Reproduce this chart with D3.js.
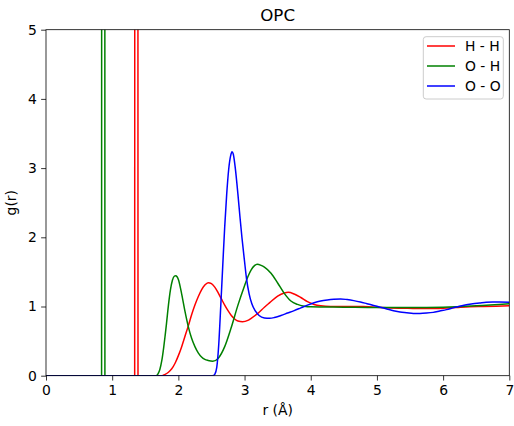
<!DOCTYPE html>
<html>
<head>
<meta charset="utf-8">
<script src="https://cdn.jsdelivr.net/npm/d3@7"></script>
<style>
  html, body { margin: 0; padding: 0; background: #fff; }
  svg { display: block; font-family: "DejaVu Sans", sans-serif; }
</style>
</head>
<body>
<svg id="chart" width="514" height="426"></svg>
<script>
// ---------------- data ----------------
const title = "OPC";
const xLabel = "r (Å)";
const yLabel = "g(r)";
const seriesNames = ["H - H", "O - H", "O - O"];
const xTicks = [0, 1, 2, 3, 4, 5, 6, 7];
const yTicks = [0, 1, 2, 3, 4, 5];

const rHH = [0, 1.340, 1.345, 1.385, 1.390, 1.75, 1.80, 1.85, 1.90, 1.95, 2.00, 2.05, 2.10, 2.15, 2.20, 2.25, 2.30, 2.35, 2.40, 2.45, 2.50, 2.55, 2.60, 2.65, 2.70, 2.75, 2.80, 2.85, 2.90, 2.97, 3.05, 3.10, 3.20, 3.30, 3.38, 3.50, 3.60, 3.66, 3.75, 3.85, 3.95, 4.05, 4.15, 4.30, 4.50, 4.80, 5.00, 5.20, 5.40, 5.60, 5.80, 6.00, 6.20, 6.40, 6.60, 6.80, 7.00];
const gHH = [0, 0, 30, 30, 0, 0, 0.02, 0.05, 0.10, 0.18, 0.29, 0.42, 0.57, 0.72, 0.88, 1.02, 1.14, 1.24, 1.31, 1.345, 1.33, 1.28, 1.20, 1.11, 1.02, 0.94, 0.87, 0.82, 0.79, 0.78, 0.80, 0.83, 0.90, 0.99, 1.055, 1.15, 1.195, 1.205, 1.18, 1.13, 1.07, 1.03, 1.01, 1.00, 1.00, 1.00, 0.99, 0.98, 0.975, 0.97, 0.97, 0.975, 0.985, 0.995, 1.00, 1.005, 1.01];

const rOH = [0, 0.840, 0.845, 0.885, 0.890, 1.65, 1.68, 1.70, 1.72, 1.75, 1.78, 1.80, 1.82, 1.85, 1.88, 1.91, 1.94, 1.96, 1.98, 2.00, 2.05, 2.10, 2.15, 2.20, 2.25, 2.30, 2.35, 2.40, 2.45, 2.52, 2.60, 2.70, 2.80, 2.90, 3.00, 3.05, 3.10, 3.15, 3.19, 3.25, 3.30, 3.40, 3.50, 3.60, 3.70, 3.80, 3.90, 4.00, 4.50, 5.00, 5.50, 6.00, 6.50, 7.00];
const gOH = [0, 0, 30, 30, 0, 0, 0.01, 0.04, 0.09, 0.22, 0.42, 0.58, 0.75, 1.02, 1.24, 1.38, 1.44, 1.445, 1.43, 1.39, 1.18, 0.93, 0.71, 0.54, 0.42, 0.33, 0.27, 0.235, 0.22, 0.21, 0.25, 0.42, 0.70, 1.02, 1.30, 1.43, 1.53, 1.59, 1.61, 1.595, 1.57, 1.48, 1.34, 1.19, 1.08, 1.03, 1.005, 0.995, 0.99, 0.985, 0.985, 0.99, 1.01, 1.04];

const rOO = [0, 2.50, 2.53, 2.55, 2.58, 2.61, 2.64, 2.67, 2.70, 2.73, 2.76, 2.79, 2.81, 2.83, 2.86, 2.90, 2.93, 2.96, 3.00, 3.03, 3.07, 3.11, 3.16, 3.22, 3.30, 3.38, 3.45, 3.55, 3.65, 3.75, 3.85, 3.95, 4.05, 4.15, 4.25, 4.35, 4.45, 4.55, 4.65, 4.75, 4.85, 4.95, 5.05, 5.15, 5.25, 5.35, 5.45, 5.55, 5.65, 5.75, 5.85, 5.95, 6.05, 6.15, 6.25, 6.35, 6.45, 6.55, 6.65, 6.75, 6.85, 7.00];
const gOO = [0, 0, 0.005, 0.02, 0.12, 0.45, 1.0, 1.58, 2.15, 2.62, 2.98, 3.18, 3.237, 3.20, 3.00, 2.62, 2.30, 2.00, 1.65, 1.40, 1.18, 1.04, 0.94, 0.87, 0.835, 0.83, 0.84, 0.87, 0.905, 0.94, 0.98, 1.02, 1.055, 1.08, 1.095, 1.105, 1.11, 1.10, 1.085, 1.065, 1.04, 1.015, 0.99, 0.965, 0.94, 0.92, 0.91, 0.90, 0.90, 0.905, 0.915, 0.935, 0.955, 0.98, 1.005, 1.025, 1.04, 1.05, 1.06, 1.065, 1.065, 1.06];

// ---------------- layout ----------------
const svg = d3.select("#chart");
const L = 46, R = 509.3, T = 29.7, B = 375.7;
const colors = ["#ff0000", "#008000", "#0000ff"];
const fs = 13.9;

const x = d3.scaleLinear().domain([0, 7]).range([L, R]);
const y = d3.scaleLinear().domain([0, 5]).range([B, T]);

const series = [
  d3.zip(rHH, gHH),
  d3.zip(rOH, gOH),
  d3.zip(rOO, gOO)
];

svg.append("defs").append("clipPath").attr("id", "clip")
  .append("rect").attr("x", L).attr("y", T).attr("width", R - L).attr("height", B - T);

const line = d3.line()
  .x(d => x(d[0]))
  .y(d => y(d[1]))
  .curve(d3.curveMonotoneX);

const plot = svg.append("g").attr("clip-path", "url(#clip)");
series.forEach((s, i) => {
  plot.append("path")
    .datum(s)
    .attr("fill", "none")
    .attr("stroke", colors[i])
    .attr("stroke-width", 1.5)
    .attr("stroke-linejoin", "round")
    .attr("stroke-linecap", "butt")
    .attr("d", line);
});

// axes
const xAxis = d3.axisBottom(x).tickValues(xTicks).tickFormat(d3.format("d")).tickSize(4.86).tickPadding(4.4);
const yAxis = d3.axisLeft(y).tickValues(yTicks).tickFormat(d3.format("d")).tickSize(4.86).tickPadding(4.4);

const gx = svg.append("g").attr("transform", `translate(0,${B})`).call(xAxis);
const gy = svg.append("g").attr("transform", `translate(${L},0)`).call(yAxis);
[gx, gy].forEach(g => {
  g.select(".domain").remove();
  g.selectAll(".tick line").attr("stroke", "#000").attr("stroke-width", 0.8);
  g.selectAll(".tick text").attr("fill", "#000").style("font-size", fs + "px").style("font-family", "DejaVu Sans");
});

// spines
svg.append("rect")
  .attr("x", L).attr("y", T).attr("width", R - L).attr("height", B - T)
  .attr("fill", "none").attr("stroke", "#000").attr("stroke-width", 0.8);

// title & labels
svg.append("text").attr("x", (L + R) / 2).attr("y", 21.4)
  .attr("text-anchor", "middle").style("font-size", "16.67px").attr("fill", "#000").text(title);
svg.append("text").attr("x", (L + R) / 2).attr("y", 414.5)
  .attr("text-anchor", "middle").style("font-size", fs + "px").attr("fill", "#000").text(xLabel);
svg.append("text").attr("transform", `translate(16,${(T + B) / 2}) rotate(-90)`)
  .attr("text-anchor", "middle").style("font-size", fs + "px").attr("fill", "#000").text(yLabel);

// legend
const lg = svg.append("g");
lg.append("rect").attr("x", 423.3).attr("y", 36.7).attr("width", 80).attr("height", 62.3)
  .attr("rx", 2.8).attr("ry", 2.8)
  .attr("fill", "#fff").attr("fill-opacity", 0.8)
  .attr("stroke", "#cccccc").attr("stroke-width", 1);
seriesNames.forEach((name, i) => {
  const yy = 46 + i * 20;
  lg.append("line").attr("x1", 427).attr("x2", 455).attr("y1", yy).attr("y2", yy)
    .attr("stroke", colors[i]).attr("stroke-width", 1.5);
  lg.append("text").attr("x", 465).attr("y", yy + 5)
    .style("font-size", fs + "px").attr("fill", "#000").text(name);
});
</script>
</body>
</html>
